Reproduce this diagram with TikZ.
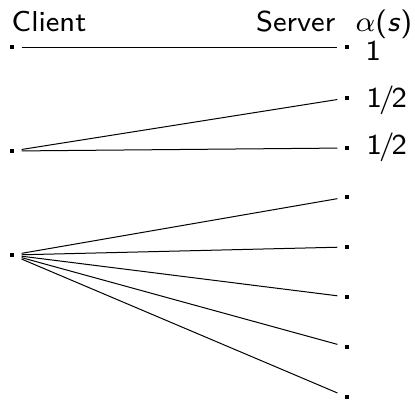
\documentclass[tikz,border=0pt]{standalone}
\usepackage{fontspec}
\begin{document}
\begin{tikzpicture}[x=1pt,y=-1pt,
  dotnode/.style={rectangle,fill=black,inner sep=0pt,minimum size=3.2pt,outer sep=8pt},
  lbl/.style={inner sep=0pt,scale=3.6,font=\fontsize{8}{10}\selectfont\sffamily},
  conn/.style={line width=1pt}]
\useasboundingbox (0,0) rectangle (415,399);
% labels
\node[lbl,anchor=base west] (client) at (11,31) {Client};
\node[lbl,anchor=base east] (server) at (336,31) {Server};
\node[lbl,anchor=base west] (alpha) at (355,31) {$\alpha$(\textit{s})};
% client dots
\node[dotnode] (c1) at (12,47) {};
\node[dotnode] (c2) at (12,151) {};
\node[dotnode] (c3) at (12,255) {};
% server dots
\node[dotnode] (s1) at (347,47) {};
\node[dotnode] (s2) at (347,98) {};
\node[dotnode] (s3) at (347,148) {};
\node[dotnode] (s4) at (347,197) {};
\node[dotnode] (s5) at (347,247) {};
\node[dotnode] (s6) at (347,297) {};
\node[dotnode] (s7) at (347,347) {};
\node[dotnode] (s8) at (347,397) {};
% weights
\node[lbl,anchor=base west] (w1) at (365,60) {1};
\node[lbl,anchor=base west] (w2) at (366,107) {1\kern-0.8pt/\kern-0.8pt2};
\node[lbl,anchor=base west] (w3) at (366,154) {1\kern-0.8pt/\kern-0.8pt2};
% connectors
\draw[conn] (c1) -- (s1);
\draw[conn] (c2) -- (s2);
\draw[conn] (c2) -- (s3);
\draw[conn] (c3) -- (s4);
\draw[conn] (c3) -- (s5);
\draw[conn] (c3) -- (s6);
\draw[conn] (c3) -- (s7);
\draw[conn] (c3) -- (s8);
\end{tikzpicture}
\end{document}
